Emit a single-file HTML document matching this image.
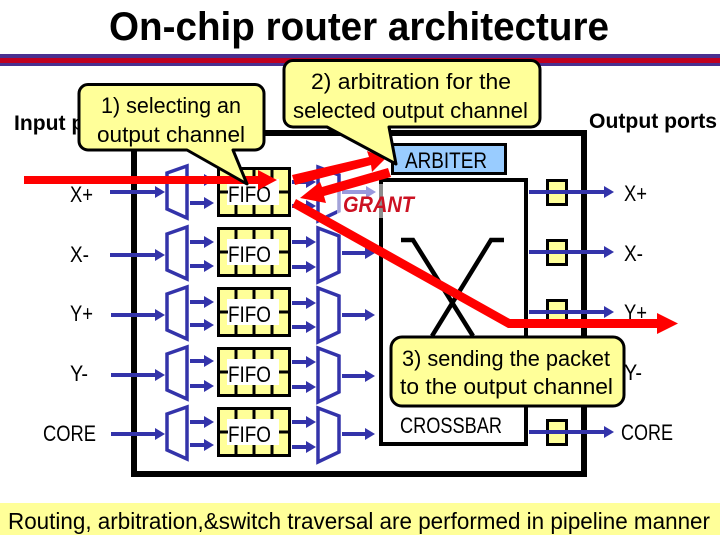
<!DOCTYPE html>
<html>
<head>
<meta charset="utf-8">
<style>
html,body{margin:0;padding:0;background:#fff;width:720px;height:540px;overflow:hidden}
svg{display:block}
text{font-family:"Liberation Sans",sans-serif;fill:#000}
</style>
</head>
<body>
<svg xmlns="http://www.w3.org/2000/svg" width="720" height="540" viewBox="0 0 720 540">
<defs>
<g id="fifo">
<rect x="218.500" y="1.500" width="71" height="47" fill="#ffff99" stroke="#000" stroke-width="3"/>
<rect x="227" y="12" width="52" height="26" fill="#fff"/>
<path d="M236 1V12M254 1V12M272 1V12M236 38V49M254 38V49M272 38V49M218 25H228M279 25H290" stroke="#000" stroke-width="3" fill="none"/>
<text x="228" y="35" font-size="22" textLength="43" lengthAdjust="spacingAndGlyphs">FIFO</text>
</g>
<polygon id="h" points="-10,-6 0,0 -10,6" fill="#3333aa"/>
<polygon id="demux" points="167,7 187,0 187,52 167,43" fill="#fff" stroke="#3333aa" stroke-width="3.500"/>
<polygon id="mux" points="318,1 339,9 339,45 318,55" fill="#fff" stroke="#3333aa" stroke-width="3.500"/>
</defs>

<rect width="720" height="540" fill="#fff"/>

<text x="109" y="40" font-size="40" font-weight="bold" textLength="500" lengthAdjust="spacingAndGlyphs">On-chip router architecture</text>
<rect x="0" y="54" width="720" height="12" fill="#4a3090"/>
<rect x="0" y="58" width="720" height="5" fill="#c00020"/>

<text x="14" y="130" font-size="21" font-weight="bold" textLength="110" lengthAdjust="spacingAndGlyphs">Input ports</text>
<text x="589" y="128" font-size="21" font-weight="bold" textLength="128" lengthAdjust="spacingAndGlyphs">Output ports</text>

<rect x="134" y="133" width="450" height="341" fill="#fff" stroke="#000" stroke-width="6"/>

<g font-size="22">
<text x="70" y="202" textLength="23" lengthAdjust="spacingAndGlyphs">X+</text>
<text x="70" y="262" textLength="19" lengthAdjust="spacingAndGlyphs">X-</text>
<text x="70" y="321" textLength="23" lengthAdjust="spacingAndGlyphs">Y+</text>
<text x="70" y="381" textLength="18" lengthAdjust="spacingAndGlyphs">Y-</text>
<text x="43" y="441" textLength="53" lengthAdjust="spacingAndGlyphs">CORE</text>
<text x="624" y="201" textLength="23" lengthAdjust="spacingAndGlyphs">X+</text>
<text x="624" y="261" textLength="19" lengthAdjust="spacingAndGlyphs">X-</text>
<text x="624" y="320" textLength="23" lengthAdjust="spacingAndGlyphs">Y+</text>
<text x="624" y="380" textLength="18" lengthAdjust="spacingAndGlyphs">Y-</text>
<text x="621" y="440" textLength="52" lengthAdjust="spacingAndGlyphs">CORE</text>
</g>

<rect x="381" y="180" width="145" height="264" fill="#fff" stroke="#000" stroke-width="4"/>
<path d="M401 240H413L473 336M504 240H491L432 336" fill="none" stroke="#000" stroke-width="4.500"/>
<text x="400" y="433" font-size="22" textLength="102" lengthAdjust="spacingAndGlyphs">CROSSBAR</text>

<rect x="392.500" y="144.500" width="113" height="29" fill="#99ccff" stroke="#000" stroke-width="3"/>
<text x="405" y="168" font-size="22" textLength="82" lengthAdjust="spacingAndGlyphs">ARBITER</text>

<!-- output buffers -->
<g fill="#ffff99" stroke="#000" stroke-width="3">
<rect x="547.500" y="180.500" width="19" height="24"/>
<rect x="547.500" y="240.500" width="19" height="24"/>
<rect x="547.500" y="300.500" width="19" height="24"/>
<rect x="547.500" y="360.500" width="19" height="24"/>
<rect x="547.500" y="420.500" width="19" height="24"/>
</g>

<use href="#demux" y="166"/>
<use href="#demux" y="227"/>
<use href="#demux" y="287"/>
<use href="#demux" y="347"/>
<use href="#demux" y="407"/>

<use href="#fifo" y="167"/>
<use href="#fifo" y="227"/>
<use href="#fifo" y="287"/>
<use href="#fifo" y="347"/>
<use href="#fifo" y="407"/>

<use href="#mux" y="166"/>
<use href="#mux" y="227"/>
<use href="#mux" y="287"/>
<use href="#mux" y="347"/>
<use href="#mux" y="407"/>

<!-- input and internal arrows -->
<path stroke="#3333aa" stroke-width="4" fill="none" d="M110 192H158M110 255H158M111 315H158M111 375H158M111 434H158
M190 180H206M190 203H206M190 242H206M190 266H206M190 302H206M190 325H206M190 361H206M190 386H206M190 422H206M190 445H206
M292 182H308M292 206H308M292 242H308M292 267H308M292 303H308M292 327H308M292 362H308M292 387H308M292 422H308M292 447H308
M342 253H367M342 315H367M342 376H367M342 434H367
M529 192H606M529 252H606M529 312H606M529 372H606M529 432H606"/>
<g>
<use href="#h" x="165" y="192"/><use href="#h" x="165" y="255"/><use href="#h" x="165" y="315"/><use href="#h" x="165" y="375"/><use href="#h" x="165" y="434"/>
<use href="#h" x="214" y="180"/><use href="#h" x="214" y="203"/><use href="#h" x="214" y="242"/><use href="#h" x="214" y="266"/><use href="#h" x="214" y="302"/><use href="#h" x="214" y="325"/><use href="#h" x="214" y="361"/><use href="#h" x="214" y="386"/><use href="#h" x="214" y="422"/><use href="#h" x="214" y="445"/>
<use href="#h" x="316" y="182"/><use href="#h" x="316" y="206"/><use href="#h" x="316" y="242"/><use href="#h" x="316" y="267"/><use href="#h" x="316" y="303"/><use href="#h" x="316" y="327"/><use href="#h" x="316" y="362"/><use href="#h" x="316" y="387"/><use href="#h" x="316" y="422"/><use href="#h" x="316" y="447"/>
<use href="#h" x="375" y="253"/><use href="#h" x="375" y="315"/><use href="#h" x="375" y="376"/><use href="#h" x="375" y="434"/>
<use href="#h" x="614" y="192"/><use href="#h" x="614" y="252"/><use href="#h" x="614" y="312"/><use href="#h" x="614" y="372"/><use href="#h" x="614" y="432"/>
</g>

<!-- faded grant overlay -->
<rect x="337" y="184" width="47" height="34" fill="#fff" opacity="0.55"/>
<path d="M342 192H367" stroke="#9999dd" stroke-width="4"/>
<polygon points="366,186 376,192 366,198" fill="#9999dd"/>

<text x="343" y="212" font-size="22" font-weight="bold" font-style="italic" style="fill:#cc1122" textLength="71" lengthAdjust="spacingAndGlyphs">GRANT</text>

<!-- red arrows -->
<g fill="#ff0000" stroke="none">
<polygon points="24,176 258,176 258,170 277,180 258,190 258,184 24,184"/>
<polygon points="292,175 369,157 367,151 386,158 372,172 371,165 295,185"/>
<polygon points="388,168 391,177 324,196 326,203 300,198 320,182 322,187"/>
<polygon points="296,199 510,319 657,319 657,313 678,323.500 657,334 657,328 508,328 292,207"/>
</g>

<!-- callout 1 -->
<path d="M88 84.500H255a9 9 0 0 1 9 9V141a9 9 0 0 1 -9 9H233L247 184L187 150H88a9 9 0 0 1 -9 -9V93.500a9 9 0 0 1 9 -9Z" fill="#ffff99" stroke="#000" stroke-width="3" stroke-linejoin="round"/>
<text x="101" y="113" font-size="22" textLength="140" lengthAdjust="spacingAndGlyphs">1) selecting an</text>
<text x="97" y="142" font-size="22" textLength="148" lengthAdjust="spacingAndGlyphs">output channel</text>

<!-- callout 2 -->
<path d="M293 60.500H531a9 9 0 0 1 9 9V118a9 9 0 0 1 -9 9H389L396 164L327 127H293a9 9 0 0 1 -9 -9V69.500a9 9 0 0 1 9 -9Z" fill="#ffff99" stroke="#000" stroke-width="3" stroke-linejoin="round"/>
<text x="311" y="89" font-size="22" textLength="200" lengthAdjust="spacingAndGlyphs">2) arbitration for the</text>
<text x="293" y="118" font-size="22" textLength="235" lengthAdjust="spacingAndGlyphs">selected output channel</text>

<!-- callout 3 -->
<rect x="391" y="337" width="233" height="69" rx="11" ry="11" fill="#ffff99" stroke="#000" stroke-width="3"/>
<text x="402" y="366" font-size="22" textLength="208" lengthAdjust="spacingAndGlyphs">3) sending the packet</text>
<text x="400" y="394" font-size="22" textLength="213" lengthAdjust="spacingAndGlyphs">to the output channel</text>

<!-- bottom banner -->
<rect x="0" y="503" width="720" height="32" fill="#ffff99"/>
<text x="8" y="529" font-size="23" textLength="702" lengthAdjust="spacingAndGlyphs">Routing, arbitration,&amp;switch traversal are performed in pipeline manner</text>
</svg>
</body>
</html>
